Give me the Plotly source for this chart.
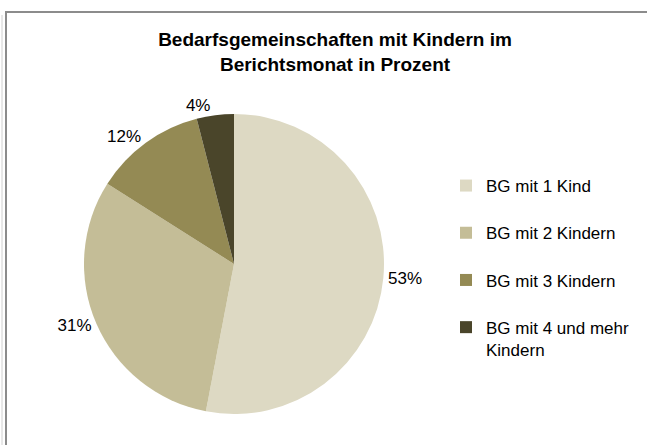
import plotly.graph_objects as go

categories = ["BG mit 1 Kind", "BG mit 2 Kindern", "BG mit 3 Kindern", "BG mit 4 und mehr Kindern"]
legend_labels = ["BG mit 1 Kind<br> ", "BG mit 2 Kindern<br> ", "BG mit 3 Kindern<br> ", "BG mit 4 und mehr<br>Kindern"]
values = [53, 31, 12, 4]
colors = ["#DDD9C3", "#C4BD97", "#948A54", "#4A452A"]
title_text = "Bedarfsgemeinschaften mit Kindern im<br>Berichtsmonat in Prozent"

W, H = 647, 445
cx, cy, r = 234, 264, 150

fig = go.Figure(go.Pie(
    labels=legend_labels,
    values=values,
    sort=False,
    direction="clockwise",
    rotation=0,
    marker=dict(colors=colors, line=dict(width=0)),
    texttemplate="%{value}%",
    textposition="outside",
    textfont=dict(family="Liberation Sans, Arial", size=17, color="#000000"),
    domain=dict(x=[(cx - r) / W, (cx + r) / W], y=[(H - cy - r) / H, (H - cy + r) / H]),
    hoverinfo="label+percent",
    showlegend=True,
))

fig.update_layout(
    width=W, height=H,
    margin=dict(l=0, r=0, t=0, b=0),
    paper_bgcolor="#FFFFFF",
    plot_bgcolor="#FFFFFF",
    font=dict(family="Liberation Sans, Arial", color="#000000"),
    title=dict(
        text=title_text,
        x=335 / W, xanchor="center",
        y=1 - 46 / H, yanchor="top",
        font=dict(family="Liberation Sans, Arial", size=19, color="#000000", weight="bold"),
    ),
    legend=dict(
        x=446 / W, xanchor="left",
        y=1 - 168 / H, yanchor="top",
        valign="top",
        font=dict(family="Liberation Sans, Arial", size=17, color="#000000"),
        bgcolor="rgba(0,0,0,0)",
        traceorder="normal",
    ),
    shapes=[
        dict(type="rect", xref="paper", yref="paper",
             x0=6 / W, x1=1.05, y0=-0.05, y1=1 - 12 / H,
             line=dict(color="#8C8C8C", width=2), fillcolor="rgba(0,0,0,0)", layer="below"),
        dict(type="line", xref="paper", yref="paper",
             x0=2 / W, x1=2 / W, y0=0, y1=1 - 15 / H,
             line=dict(color="#D0D0D0", width=1)),
    ],
)

fig.write_html(
    "out.html",
    config={"displayModeBar": False},
    post_script="document.body.style.margin='0';document.body.style.overflow='hidden';",
)
